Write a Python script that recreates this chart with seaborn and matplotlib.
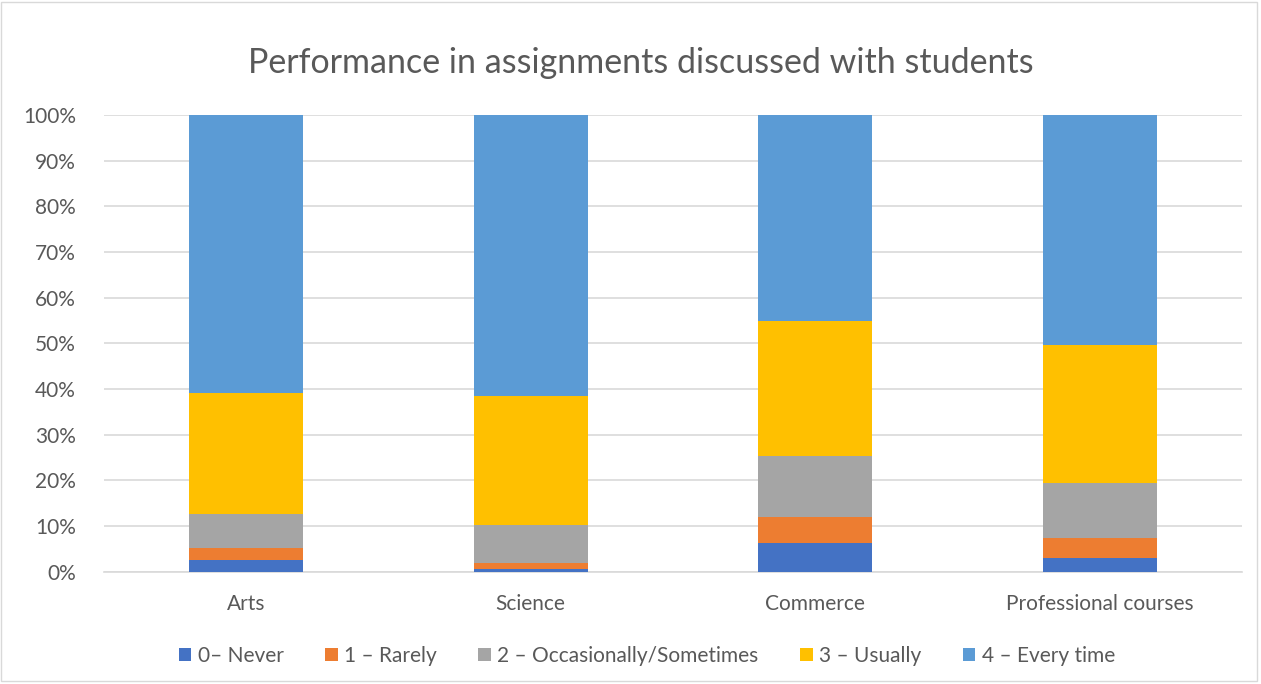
import numpy as np
import pandas as pd
import matplotlib.pyplot as plt
import seaborn as sns
from matplotlib.patches import Patch, Rectangle
from matplotlib.ticker import PercentFormatter

# data (percent of responses per course)
courses = ['Arts', 'Science', 'Commerce', 'Professional courses']
series = ['0– Never', '1 – Rarely', '2 – Occasionally/Sometimes', '3 – Usually', '4 – Every time']
never = [2.6, 0.7, 6.4, 3.0]
rarely = [2.7, 1.3, 5.5, 4.3]
occasionally = [7.3, 8.2, 13.4, 12.2]
usually = [26.6, 28.3, 29.6, 30.2]
every_time = [60.8, 61.5, 45.1, 50.3]
colors = ['#4472C4', '#ED7D31', '#A5A5A5', '#FFC000', '#5B9BD5']

df = pd.DataFrame({'course': courses, series[0]: never, series[1]: rarely,
                   series[2]: occasionally, series[3]: usually, series[4]: every_time})
cum = df[series].cumsum(axis=1)
cum.insert(0, 'course', courses)

sns.set_style('white')
plt.rcParams['font.family'] = ['Lato', 'DejaVu Sans']
txt = '#595959'

fig = plt.figure(figsize=(12.61, 6.84), dpi=100)
ax = fig.add_axes([0.0822, 0.164, 0.903, 0.668])

# stacked bars: draw the cumulative totals from top layer down
for name, col in reversed(list(zip(series, colors))):
    sns.barplot(data=cum, x='course', y=name, color=col, width=0.4,
                saturation=1, ax=ax, linewidth=0, zorder=3)

ax.set_ylim(0, 100)
ax.set_xlim(-0.5, 3.5)
ax.set_yticks(np.arange(0, 101, 10))
ax.yaxis.set_major_formatter(PercentFormatter(decimals=0))
ax.grid(axis='y', color='#D9D9D9', lw=1.2, zorder=0)
ax.set_axisbelow(True)
for s in ['top', 'right', 'left']:
    ax.spines[s].set_visible(False)
ax.spines['bottom'].set_color('#D9D9D9')
ax.spines['bottom'].set_linewidth(1.2)
ax.tick_params(axis='both', length=0, labelsize=15, colors=txt)
ax.tick_params(axis='y', pad=20)
ax.tick_params(axis='x', pad=16)
ax.set_xlabel('')
ax.set_ylabel('')

fig.text(0.508, 0.908, 'Performance in assignments discussed with students',
         ha='center', va='center', fontsize=24.5, color=txt)

handles = [Patch(facecolor=c, edgecolor='none') for c in colors]
fig.legend(handles, series, loc='center', bbox_to_anchor=(0.513, 0.041), ncol=5,
           frameon=False, fontsize=15, labelcolor=txt, handlelength=0.6,
           handleheight=0.6, handletextpad=0.3, columnspacing=2.0)

fig.patches.append(Rectangle((0.001, 0.004), 0.996, 0.993, transform=fig.transFigure,
                             fill=False, edgecolor='#D9D9D9', lw=1))

fig.savefig('out.png', dpi=100)
